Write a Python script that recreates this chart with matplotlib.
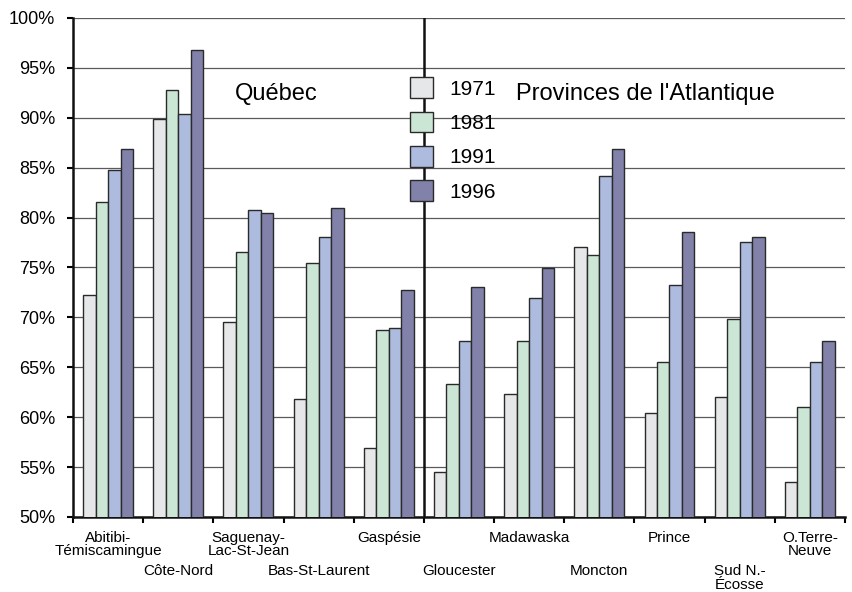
"""
    Taux par région, Québec et provinces de l'Atlantique (1971-1996)
"""

import matplotlib
matplotlib.use("Agg")
import matplotlib.pyplot as plt
import numpy as np
from matplotlib.ticker import FuncFormatter, FixedLocator

plt.rcParams['font.family'] = ['Liberation Sans', 'DejaVu Sans']

# données
regions = ["Abitibi-\nTémiscamingue", "Côte-Nord", "Saguenay-\nLac-St-Jean", "Bas-St-Laurent",
           "Gaspésie", "Gloucester", "Madawaska", "Moncton", "Prince", "Sud N.-\nÉcosse",
           "O.Terre-\nNeuve"]
years = ["1971", "1981", "1991", "1996"]
v1971 = [72.2, 89.9, 69.5, 61.8, 56.9, 54.5, 62.3, 77.1, 60.4, 62.0, 53.5]
v1981 = [81.6, 92.8, 76.5, 75.4, 68.7, 63.3, 67.6, 76.2, 65.5, 69.8, 61.0]
v1991 = [84.8, 90.4, 80.8, 78.1, 68.9, 67.6, 71.9, 84.2, 73.2, 77.6, 65.5]
v1996 = [86.9, 96.8, 80.5, 81.0, 72.7, 73.0, 74.9, 86.9, 78.6, 78.1, 67.6]

couleurs = ["#e6e7e8", "#cce6d5", "#adbbdf", "#8181a9"]

fig = plt.figure(figsize=(8.52, 5.92), dpi=100)
ax = fig.add_axes([0.0857, 0.1267, 0.906, 0.843])

x = np.arange(len(regions))
w = 0.178
for i, (vals, c, yr) in enumerate(zip([v1971, v1981, v1991, v1996], couleurs, years)):
    ax.bar(x + (i - 1.5) * w, vals, width=w, color=c, edgecolor="#2a2a2a",
           linewidth=1.0, label=yr, zorder=3)

ax.set_ylim(50, 100)
ax.set_xlim(-0.5, len(regions) - 0.5)
ax.set_yticks(np.arange(50, 101, 5))
ax.yaxis.set_major_formatter(FuncFormatter(lambda v, p: f"{int(v)}%"))
ax.grid(axis="y", color="#5a5a5a", linewidth=0.9, zorder=0)

# séparateur Québec / Atlantique
ax.axvline(4.5, color="#111111", linewidth=1.8, zorder=4)

for s in ["top", "right"]:
    ax.spines[s].set_visible(False)
for s in ["left", "bottom"]:
    ax.spines[s].set_linewidth(1.8)
    ax.spines[s].set_color("#111111")

ax.tick_params(axis="y", labelsize=13, length=4, width=1.5, direction="out", pad=9)
ax.set_xticks(x)
ax.set_xticklabels(regions, fontsize=11, linespacing=0.95)
ax.xaxis.set_minor_locator(FixedLocator(np.arange(-0.5, len(regions), 1)))
ax.tick_params(axis="x", which="major", length=0)
ax.tick_params(axis="x", which="minor", length=4, width=1.5, direction="out")
for k, t in enumerate(ax.xaxis.get_major_ticks()):
    t.set_pad(10 if k % 2 == 0 else 34)
    t.label1.set_verticalalignment("top")

ax.text(2.39, 92.4, "Québec", fontsize=17, ha="center", va="center", zorder=5)
ax.text(7.65, 92.4, "Provinces de l'Atlantique", fontsize=17, ha="center", va="center", zorder=5)

leg = ax.legend(frameon=False, loc="upper left", bbox_to_anchor=(0.437, 0.881),
                fontsize=15, handlelength=1.07, handleheight=1.15, labelspacing=0.62,
                handletextpad=0.8, borderaxespad=0, borderpad=0)
leg.set_zorder(6)

fig.savefig("out.png", dpi=100)
